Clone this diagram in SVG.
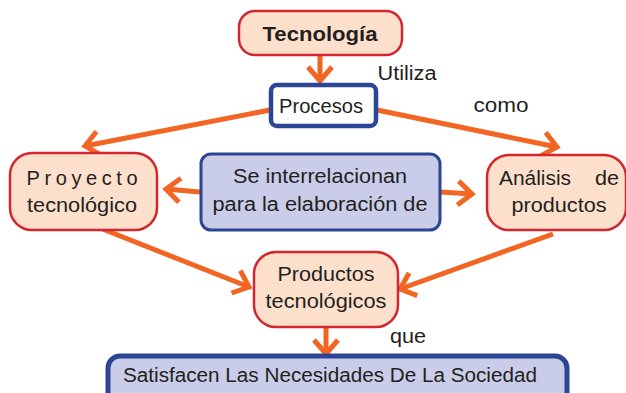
<svg xmlns="http://www.w3.org/2000/svg" width="626" height="393" viewBox="0 0 626 393">
<defs>
<style>
.t{font-family:"Liberation Sans",Arial,sans-serif;font-size:20px;fill:#231f20;text-anchor:middle}
.red{fill:#fde0cc;stroke:#d3262f;stroke-width:2.5}
.blue{fill:#c9cde9;stroke:#2c4594;stroke-width:3}
.c{stroke:#f26522;stroke-width:5;fill:none;stroke-linecap:butt}
</style>
<marker id="ah" viewBox="0 0 20 26" refX="17" refY="13" markerWidth="20" markerHeight="26" markerUnits="userSpaceOnUse" orient="auto" overflow="visible">
<path d="M3,1 L17,13 L3,25" fill="none" stroke="#f26522" stroke-width="5"/>
</marker>
</defs>
<rect width="626" height="393" fill="#ffffff"/>
<g id="connectors">
<line class="c" x1="320" y1="56" x2="320" y2="81" marker-end="url(#ah)"/>
<line class="c" x1="270" y1="110" x2="85" y2="146" marker-end="url(#ah)"/>
<line class="c" x1="377" y1="110" x2="557" y2="147" marker-end="url(#ah)"/>
<line class="c" x1="200" y1="192" x2="166" y2="189" marker-end="url(#ah)"/>
<line class="c" x1="440" y1="192" x2="472" y2="194" marker-end="url(#ah)"/>
<line class="c" x1="100" y1="228" x2="249" y2="287" marker-end="url(#ah)"/>
<line class="c" x1="553" y1="234" x2="400" y2="289" marker-end="url(#ah)"/>
<line class="c" x1="326" y1="328" x2="326" y2="354" marker-end="url(#ah)"/>
<text class="t" x="407" y="80" textLength="59" lengthAdjust="spacingAndGlyphs">Utiliza</text>
<text class="t" x="501" y="112" textLength="55" lengthAdjust="spacingAndGlyphs">como</text>
<text class="t" x="408" y="343" textLength="36" lengthAdjust="spacingAndGlyphs">que</text>
</g>
<g id="tecnologia">
<rect class="red" x="239" y="11" width="163" height="44" rx="16"/>
<text class="t" x="320" y="41" style="font-weight:bold;font-size:21px" textLength="115" lengthAdjust="spacingAndGlyphs">Tecnología</text>
</g>
<g id="procesos">
<rect x="271" y="85" width="105" height="41" rx="6" fill="#ffffff" stroke="#2c4594" stroke-width="4.5"/>
<text class="t" x="321" y="113" textLength="84" lengthAdjust="spacingAndGlyphs">Procesos</text>
</g>
<g id="proyecto">
<rect class="red" x="10" y="153" width="147" height="77" rx="22"/>
<text class="t" x="82" y="185" textLength="111" lengthAdjust="spacing">Proyecto</text>
<text class="t" x="82" y="212" textLength="110" lengthAdjust="spacingAndGlyphs">tecnológico</text>
</g>
<g id="interrelacionan">
<rect class="blue" x="201" y="154" width="239" height="76" rx="10"/>
<text class="t" x="320" y="183" textLength="174" lengthAdjust="spacingAndGlyphs">Se interrelacionan</text>
<text class="t" x="320" y="211" textLength="215" lengthAdjust="spacingAndGlyphs">para la elaboración de</text>
</g>
<g id="analisis">
<rect class="red" x="487" y="155" width="139" height="75" rx="22"/>
<text class="t" x="499" y="185" style="text-anchor:start" textLength="72" lengthAdjust="spacingAndGlyphs">Análisis</text>
<text class="t" x="619" y="185" style="text-anchor:end" textLength="24" lengthAdjust="spacingAndGlyphs">de</text>
<text class="t" x="559" y="212" textLength="95" lengthAdjust="spacingAndGlyphs">productos</text>
</g>
<g id="productos">
<rect class="red" x="254" y="252" width="144" height="75" rx="22"/>
<text class="t" x="326" y="281" textLength="97" lengthAdjust="spacingAndGlyphs">Productos</text>
<text class="t" x="326" y="308" textLength="121" lengthAdjust="spacingAndGlyphs">tecnológicos</text>
</g>
<g id="satisfacen">
<rect x="108" y="356" width="459" height="50" rx="12" fill="#c9cde9" stroke="#2c4594" stroke-width="5"/>
<text class="t" x="330" y="382" textLength="414" lengthAdjust="spacingAndGlyphs">Satisfacen Las Necesidades De La Sociedad</text>
</g>
</svg>
